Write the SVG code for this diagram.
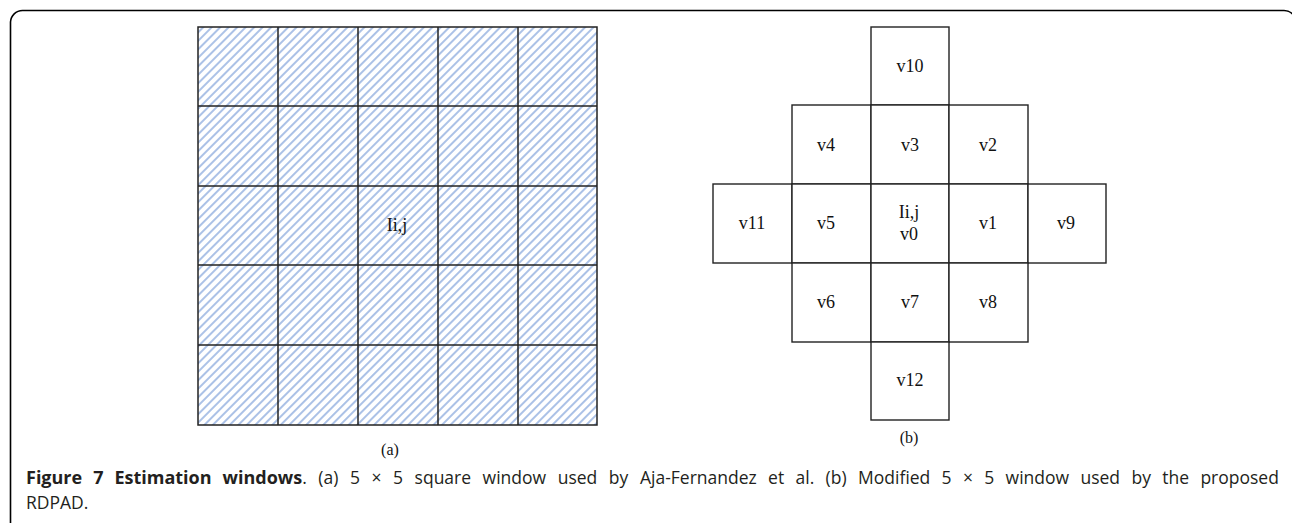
<svg xmlns="http://www.w3.org/2000/svg" width="1292" height="523" viewBox="0 0 1292 523">
<defs>
<pattern id="hatch" patternUnits="userSpaceOnUse" width="6" height="6" patternTransform="rotate(45)">
<line x1="1" y1="0" x2="1" y2="6" stroke="#7398d6" stroke-width="1.2"/>
</pattern>
</defs>
<style>
.frame{fill:none;stroke:#000;stroke-width:1.6}
.grid{fill:none;stroke:#222;stroke-width:1.5}
.cell{fill:#fff;stroke:#222;stroke-width:1.4}
.lbl{font-family:"Liberation Serif","Times New Roman",serif;font-size:18px;fill:#111;text-anchor:middle}
.sub{font-family:"Liberation Serif","Times New Roman",serif;font-size:16px;fill:#111;text-anchor:middle}
.cap{font-family:"Open Sans","Noto Sans",sans-serif;font-size:17.5px;fill:#231f20}
.capb{font-weight:bold;font-size:18px}
</style>
<rect width="1292" height="523" fill="#fff"/>
<path class="frame" d="M10.5 523 V22 A12 12 0 0 1 22.5 10.5 H1284 A12 12 0 0 1 1296 22.5 V523"/>

<g id="window-a">
<rect x="198" y="27" width="399" height="398" fill="url(#hatch)"/>
<g class="grid">
<rect x="198" y="27" width="399" height="398"/>
<line x1="278" y1="27" x2="278" y2="425"/>
<line x1="358" y1="27" x2="358" y2="425"/>
<line x1="438" y1="27" x2="438" y2="425"/>
<line x1="518" y1="27" x2="518" y2="425"/>
<line x1="198" y1="106" x2="597" y2="106"/>
<line x1="198" y1="186" x2="597" y2="186"/>
<line x1="198" y1="265" x2="597" y2="265"/>
<line x1="198" y1="345" x2="597" y2="345"/>
</g>
<text class="lbl" x="397" y="231" font-size="16">Ii,j</text>
<text class="sub" x="390" y="455">(a)</text>
</g>

<g id="window-b">
<g id="v10"><rect class="cell" x="871" y="27" width="78" height="78"/><text class="lbl" x="910" y="72">v10</text></g>
<g id="v4"><rect class="cell" x="792" y="105" width="79" height="79"/><text class="lbl" x="826" y="151">v4</text></g>
<g id="v3"><rect class="cell" x="871" y="105" width="78" height="79"/><text class="lbl" x="910" y="151">v3</text></g>
<g id="v2"><rect class="cell" x="949" y="105" width="79" height="79"/><text class="lbl" x="988" y="151">v2</text></g>
<g id="v11"><rect class="cell" x="713" y="184" width="79" height="79"/><text class="lbl" x="752" y="229">v11</text></g>
<g id="v5"><rect class="cell" x="792" y="184" width="79" height="79"/><text class="lbl" x="826" y="229">v5</text></g>
<g id="v0"><rect class="cell" x="871" y="184" width="78" height="79"/><text class="lbl" x="909" y="218">Ii,j</text><text class="lbl" x="909" y="240">v0</text></g>
<g id="v1"><rect class="cell" x="949" y="184" width="79" height="79"/><text class="lbl" x="988" y="229">v1</text></g>
<g id="v9"><rect class="cell" x="1028" y="184" width="78" height="79"/><text class="lbl" x="1066" y="229">v9</text></g>
<g id="v6"><rect class="cell" x="792" y="263" width="79" height="79"/><text class="lbl" x="826" y="308">v6</text></g>
<g id="v7"><rect class="cell" x="871" y="263" width="78" height="79"/><text class="lbl" x="910" y="308">v7</text></g>
<g id="v8"><rect class="cell" x="949" y="263" width="79" height="79"/><text class="lbl" x="988" y="308">v8</text></g>
<g id="v12"><rect class="cell" x="871" y="342" width="78" height="78"/><text class="lbl" x="910" y="386">v12</text></g>
<text class="sub" x="909" y="443">(b)</text>
</g>

<g id="caption">
<text class="cap" x="26" y="484"><tspan class="capb" word-spacing="6.3">Figure 7 Estimation windows</tspan><tspan word-spacing="7">. (a) 5 × 5 square window used by</tspan><tspan x="640" word-spacing="6.8">Aja-Fernandez et al. (b) Modified 5 × 5 window used by the proposed</tspan></text>
<text class="cap" x="26" y="509">RDPAD.</text>
</g>
</svg>
